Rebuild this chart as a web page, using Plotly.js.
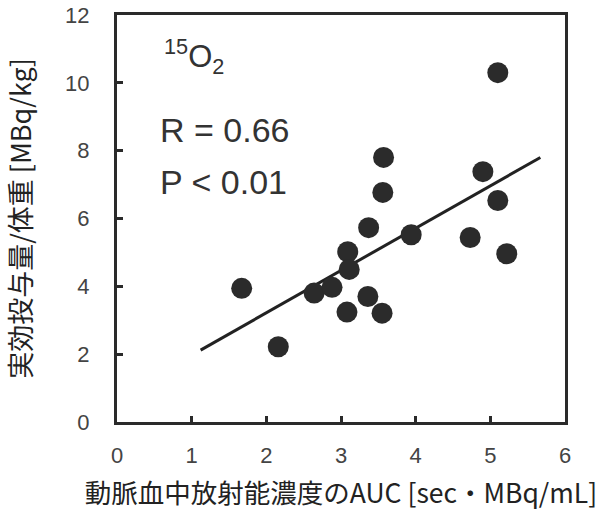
<!DOCTYPE html>
<html><head><meta charset="utf-8">
<script src="https://cdn.plot.ly/plotly-3.0.1.min.js"></script>
<style>html,body{margin:0;padding:0;background:#fff}#chart{width:602px;height:514px}</style>
</head><body><div id="chart"></div>
<script>
// Data
const aucValues = [1.67, 2.16, 2.64, 2.88, 3.09, 3.11, 3.08, 3.36, 3.37, 3.57, 3.56, 3.55, 3.94, 4.73, 4.90, 5.10, 5.10, 5.22];
const doseValues = [3.94, 2.22, 3.80, 3.97, 5.02, 4.50, 3.24, 3.70, 5.73, 7.80, 6.77, 3.21, 5.52, 5.44, 7.38, 6.53, 10.30, 4.96];
const fitX = [1.12, 5.67];
const fitY = [2.12, 7.80];
const xTicks = [0, 1, 2, 3, 4, 5, 6];
const yTicks = [0, 2, 4, 6, 8, 10, 12];
const xTitle = '動脈血中放射能濃度のAUC [sec・MBq/mL]';
const yTitle = '実効投与量/体重 [MBq/kg]';
const labelTracer = '<sup>15</sup>O<sub>2</sub>';
const labelR = 'R = 0.66';
const labelP = 'P < 0.01';

const cjk = '"Noto Sans CJK JP", "Liberation Sans", sans-serif';
const latin = '"Liberation Sans", Arial, sans-serif';

const traces = [
  {x: fitX, y: fitY, mode: 'lines', type: 'scatter', line: {color: '#222', width: 3}, hoverinfo: 'skip'},
  {x: aucValues, y: doseValues, mode: 'markers', type: 'scatter',
   marker: {size: 21, color: '#2b2b2b', line: {width: 0}}}
];

const axisCommon = {
  showgrid: false, zeroline: false, showline: true, mirror: true,
  linecolor: '#2a2a2a', linewidth: 3,
  ticks: 'inside', ticklen: 6, tickwidth: 3, tickcolor: '#2a2a2a',
  tickfont: {family: latin, size: 22, color: '#444'}
};

const layout = {
  width: 602, height: 514,
  margin: {l: 117, r: 37, t: 15, b: 92},
  paper_bgcolor: '#fff', plot_bgcolor: '#fff',
  showlegend: false,
  xaxis: Object.assign({}, axisCommon, {
    range: [0, 6], tickvals: xTicks, ticktext: xTicks.map(String),
    ticklabelstandoff: 12,
    title: {text: xTitle, font: {family: cjk, size: 26.5, color: '#222'}, standoff: 18}
  }),
  yaxis: Object.assign({}, axisCommon, {
    range: [0, 12], tickvals: yTicks, ticktext: yTicks.map(String),
    ticklabelstandoff: 20,
    title: {text: yTitle, font: {family: cjk, size: 27, color: '#222'}, standoff: 30}
  }),
  annotations: [
    {xref: 'paper', yref: 'paper', x: 0.1, y: 0.897, xanchor: 'left', yanchor: 'middle', showarrow: false,
     text: labelTracer, font: {family: latin, size: 31, color: '#333'}},
    {xref: 'paper', yref: 'paper', x: 0.092, y: 0.717, xanchor: 'left', yanchor: 'middle', showarrow: false,
     text: labelR, font: {family: latin, size: 34, color: '#333'}},
    {xref: 'paper', yref: 'paper', x: 0.092, y: 0.59, xanchor: 'left', yanchor: 'middle', showarrow: false,
     text: labelP, font: {family: latin, size: 34, color: '#333'}}
  ]
};

Plotly.newPlot('chart', traces, layout, {displayModeBar: false, staticPlot: true});
</script></body></html>
